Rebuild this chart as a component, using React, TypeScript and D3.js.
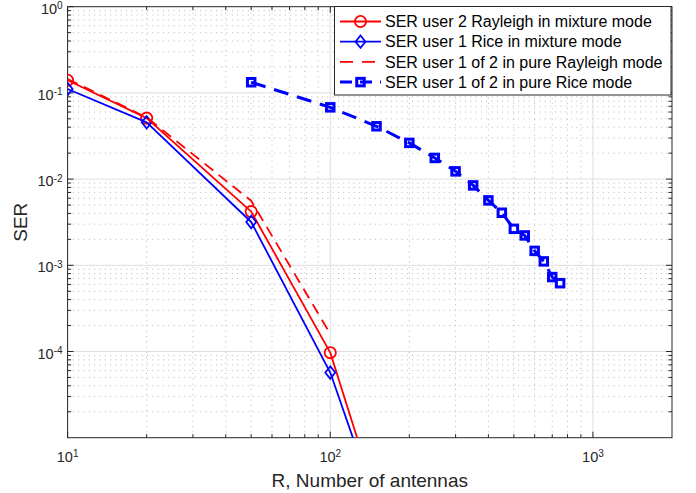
import React, { useEffect, useRef } from 'react';
import * as d3 from 'd3';

// Number of antennas (x) and SER values (y)
const R_MIX = [10, 20, 50, 100, 200];
const SER_USER2_RAYLEIGH_MIX = [0.14, 0.051, 0.0042, 9.7e-5, 1.2e-7];
const SER_USER1_RICE_MIX = [0.111, 0.0456, 0.00318, 5.7e-5, 1.3e-7];

const R_PURE_RAYLEIGH = [10, 20, 50, 100];
const SER_PURE_RAYLEIGH = [0.145, 0.052, 0.0056, 1.6e-4];

const R_PURE_RICE = [50, 100, 150, 200, 250, 300, 350, 400, 450, 500, 550, 600, 650, 700, 750];
const SER_PURE_RICE = [
  0.133, 0.068, 0.041, 0.0263, 0.0176, 0.0123, 0.00845, 0.00566, 0.00407, 0.00265, 0.00222, 0.00147,
  0.00111, 0.00073, 0.00062,
];

const X_TICKS = [10, 100, 1000];
const X_TICK_EXP = ['1', '2', '3'];
const Y_TICKS = [1e-4, 1e-3, 1e-2, 1e-1, 1];
const Y_TICK_EXP = ['-4', '-3', '-2', '-1', '0'];

const LEGEND_LABELS = [
  'SER user 2 Rayleigh in mixture mode',
  'SER user 1 Rice in mixture mode',
  'SER user 1 of 2 in pure Rayleigh mode',
  'SER user 1 of 2 in pure Rice mode',
];

const W = 696;
const H = 493;
const FONT = 'Liberation Sans, Arial, Helvetica, sans-serif';
const AX = '#262626';

const App = () => {
  const svgRef = useRef(null);

  useEffect(() => {
    const svg = d3.select(svgRef.current);
    svg.selectAll('*').remove();

    const margin = { top: 6.7, right: 24, bottom: 55.3, left: 67.6 };
    const x0 = margin.left;
    const x1 = W - margin.right;
    const y0 = H - margin.bottom;
    const y1 = margin.top;

    const x = d3.scaleLog().domain([10, 2000]).range([x0, x1]);
    const y = d3.scaleLog().domain([1e-5, 1]).range([y0, y1]);

    svg.append('rect').attr('width', W).attr('height', H).attr('fill', 'white');

    svg.append('defs').append('clipPath').attr('id', 'plot-clip')
      .append('rect').attr('x', x0).attr('y', y1).attr('width', x1 - x0).attr('height', y0 - y1);

    // minor tick positions (2..9 per decade)
    const minors = (dom) => {
      const out = [];
      const lo = Math.floor(Math.log10(dom[0]));
      const hi = Math.ceil(Math.log10(dom[1]));
      for (let d = lo; d < hi; d++) {
        for (let k = 2; k <= 9; k++) {
          const v = k * Math.pow(10, d);
          if (v > dom[0] && v < dom[1]) out.push(v);
        }
      }
      return out;
    };
    const xMinor = minors(x.domain());
    const yMinor = minors(y.domain());

    const grid = svg.append('g');
    // minor grid (dotted)
    grid.selectAll('.xmg').data(xMinor).enter().append('line')
      .attr('x1', d => x(d)).attr('x2', d => x(d)).attr('y1', y0).attr('y2', y1)
      .attr('stroke', '#b8b8b8').attr('stroke-width', 1).attr('stroke-dasharray', '1,4.3');
    grid.selectAll('.ymg').data(yMinor).enter().append('line')
      .attr('y1', d => y(d)).attr('y2', d => y(d)).attr('x1', x0).attr('x2', x1)
      .attr('stroke', '#b8b8b8').attr('stroke-width', 1).attr('stroke-dasharray', '1,4.3');
    // major grid
    grid.selectAll('.xg').data(X_TICKS.filter(d => d > 10)).enter().append('line')
      .attr('x1', d => x(d)).attr('x2', d => x(d)).attr('y1', y0).attr('y2', y1)
      .attr('stroke', '#dedede').attr('stroke-width', 1);
    grid.selectAll('.yg').data(Y_TICKS.filter(d => d < 1)).enter().append('line')
      .attr('y1', d => y(d)).attr('y2', d => y(d)).attr('x1', x0).attr('x2', x1)
      .attr('stroke', '#dedede').attr('stroke-width', 1);

    // axes box and ticks (inside, all four sides)
    const axes = svg.append('g').attr('stroke', AX).attr('stroke-width', 1);
    const majLen = 6;
    const minLen = 3.5;
    X_TICKS.concat(xMinor).forEach(v => {
      const len = X_TICKS.includes(v) ? majLen : minLen;
      axes.append('line').attr('x1', x(v)).attr('x2', x(v)).attr('y1', y0).attr('y2', y0 - len);
      axes.append('line').attr('x1', x(v)).attr('x2', x(v)).attr('y1', y1).attr('y2', y1 + len);
    });
    Y_TICKS.concat(yMinor).forEach(v => {
      const len = Y_TICKS.includes(v) ? majLen : minLen;
      axes.append('line').attr('y1', y(v)).attr('y2', y(v)).attr('x1', x0).attr('x2', x0 + len);
      axes.append('line').attr('y1', y(v)).attr('y2', y(v)).attr('x1', x1).attr('x2', x1 - len);
    });
    axes.append('rect').attr('x', x0).attr('y', y1).attr('width', x1 - x0).attr('height', y0 - y1)
      .attr('fill', 'none');

    // tick labels
    X_TICKS.forEach((v, i) => {
      const t = svg.append('text')
        .attr('x', x(v)).attr('y', y0 + 24).attr('text-anchor', 'middle')
        .attr('font-family', FONT).attr('font-size', 14.5).attr('fill', AX);
      t.append('tspan').text('10');
      t.append('tspan').attr('dy', -5).attr('font-size', 10).text(X_TICK_EXP[i]);
    });
    Y_TICKS.forEach((v, i) => {
      const t = svg.append('text')
        .attr('x', x0 - 5).attr('y', y(v) + 7).attr('text-anchor', 'end')
        .attr('font-family', FONT).attr('font-size', 14.5).attr('fill', AX);
      t.append('tspan').text('10');
      t.append('tspan').attr('dy', -4.5).attr('font-size', 10).text(Y_TICK_EXP[i]);
    });

    // axis labels
    svg.append('text')
      .attr('x', (x0 + x1) / 2).attr('y', H - 6).attr('text-anchor', 'middle')
      .attr('font-family', FONT).attr('font-size', 19).attr('fill', AX)
      .text('R, Number of antennas');
    svg.append('text')
      .attr('transform', `translate(27,${(y0 + y1) / 2}) rotate(-90)`).attr('text-anchor', 'middle')
      .attr('font-family', FONT).attr('font-size', 19).attr('fill', AX)
      .text('SER');

    // series
    const plot = svg.append('g').attr('clip-path', 'url(#plot-clip)');
    const line = d3.line().x(d => x(d[0])).y(d => y(d[1]));

    const series = [
      { xs: R_MIX, ys: SER_USER2_RAYLEIGH_MIX, color: 'red', width: 1.8, dash: null, marker: 'circle' },
      { xs: R_MIX, ys: SER_USER1_RICE_MIX, color: 'blue', width: 1.8, dash: null, marker: 'diamond' },
      { xs: R_PURE_RAYLEIGH, ys: SER_PURE_RAYLEIGH, color: 'red', width: 1.8, dash: '11,7', marker: null },
      { xs: R_PURE_RICE, ys: SER_PURE_RICE, color: 'blue', width: 3, dash: '15,9', marker: 'square' },
    ];

    const drawMarker = (g, kind, cx, cy, color) => {
      if (kind === 'circle') {
        g.append('circle').attr('cx', cx).attr('cy', cy).attr('r', 5.6)
          .attr('fill', 'none').attr('stroke', color).attr('stroke-width', 1.8);
      } else if (kind === 'diamond') {
        const s = 6.2;
        g.append('path')
          .attr('d', `M${cx},${cy - s}L${cx + s * 0.8},${cy}L${cx},${cy + s}L${cx - s * 0.8},${cy}Z`)
          .attr('fill', 'none').attr('stroke', color).attr('stroke-width', 1.8);
      } else if (kind === 'square') {
        const s = 7.5;
        g.append('rect').attr('x', cx - s / 2).attr('y', cy - s / 2).attr('width', s).attr('height', s)
          .attr('fill', 'none').attr('stroke', color).attr('stroke-width', 3);
      }
    };

    series.forEach(s => {
      const pts = s.xs.map((v, i) => [v, s.ys[i]]);
      const p = plot.append('path').datum(pts).attr('d', line)
        .attr('fill', 'none').attr('stroke', s.color).attr('stroke-width', s.width)
        .attr('stroke-linejoin', 'round');
      if (s.dash) p.attr('stroke-dasharray', s.dash);
      if (s.marker) {
        const mg = plot.append('g');
        pts.forEach(d => drawMarker(mg, s.marker, x(d[0]), y(d[1]), s.color));
      }
    });

    // legend
    const lg = svg.append('g');
    const lx = 334.5;
    const ly = 6.5;
    lg.append('rect').attr('x', lx).attr('y', ly).attr('width', 336.5).attr('height', 88.5)
      .attr('fill', 'white').attr('stroke', AX).attr('stroke-width', 1);
    series.forEach((s, i) => {
      const cy = 21.5 + i * 20.2;
      const l = lg.append('line').attr('x1', 340).attr('x2', 381).attr('y1', cy).attr('y2', cy)
        .attr('stroke', s.color).attr('stroke-width', s.width);
      if (s.dash) l.attr('stroke-dasharray', i === 2 ? '13,9' : '12,8');
      if (s.marker) drawMarker(lg, s.marker, 360.5, cy, s.color);
      lg.append('text').attr('x', 385).attr('y', cy).attr('dy', '0.36em')
        .attr('font-family', FONT).attr('font-size', 16).attr('fill', '#000')
        .text(LEGEND_LABELS[i]);
    });
  }, []);

  return (
    <div style={{ position: 'absolute', left: 0, top: 0 }}>
      <svg ref={svgRef} width={W} height={H} style={{ display: 'block' }} />
    </div>
  );
};

export default App;
